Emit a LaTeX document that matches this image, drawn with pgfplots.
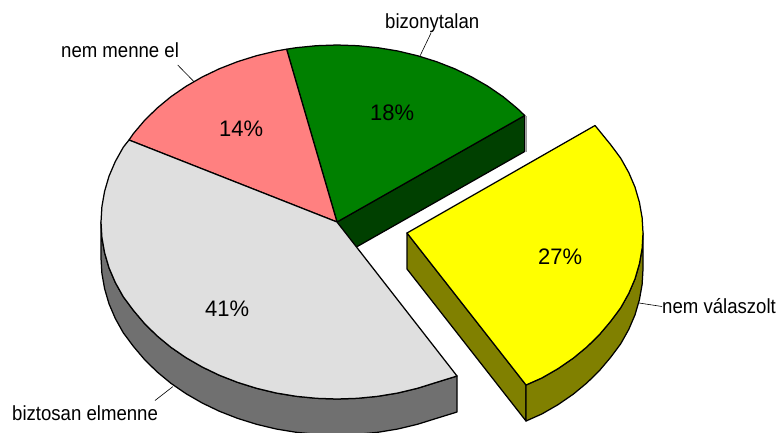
\documentclass[border=0pt]{standalone}
\usepackage{pgfplots}
\pgfplotsset{compat=1.18}
\usepackage{fontspec}
\setmainfont{Liberation Sans}
\definecolor{cgreen}{HTML}{008000}
\definecolor{cdgreen}{HTML}{004000}
\definecolor{cpink}{HTML}{FF8080}
\definecolor{cgray}{HTML}{DFDFDF}
\definecolor{cdgray}{HTML}{707070}
\definecolor{cyel}{HTML}{FFFF00}
\definecolor{colive}{HTML}{808000}
\newcommand{\lab}[1]{{\fontsize{20.5}{21}\selectfont\scalebox{0.91}[1]{#1}}}
\newcommand{\pct}[1]{{\fontsize{22.5}{23}\selectfont\scalebox{0.98}[1]{#1}}}
\begin{document}
\begin{tikzpicture}[x=1bp,y=1bp]
\useasboundingbox (0,0) rectangle (778,432);
\begin{axis}[at={(0,0)},anchor=south west,width=778bp,height=432bp,scale only axis,
  xmin=0,xmax=778,ymin=0,ymax=432,y dir=reverse,axis lines=none,ticks=none,
  every axis plot/.append style={no markers,line join=round,line width=1.25bp,draw=black}]
% green side
\addplot[fill=cdgreen] coordinates {(337,222)(524.7,115.5)(524.7,151.5)(337,258)} --cycle;
\addplot[draw=gray!80,line width=1bp] coordinates {(526,116)(526,152)};
% green top
\addplot[fill=cgreen] coordinates {(337,222)(524.7,115.5)(517,108.2)(503.2,96.8)(488.1,86.4)(471.8,77)(454.5,68.7)(436.3,61.6)(417.4,55.7)(397.8,51)(377.8,47.7)(357.5,45.7)(337,45)(316.5,45.7)(296.2,47.7)(286.6,49.2)} --cycle;
% pink top
\addplot[fill=cpink] coordinates {(337,222)(286.6,49.2)(276.2,51)(256.6,55.7)(237.7,61.6)(219.5,68.7)(202.2,77)(185.9,86.4)(170.8,96.8)(157,108.2)(144.5,120.5)(133.5,133.5)(129,140)} --cycle;
% gray side
\addplot[fill=cdgray] coordinates {(101,222)(101.9,237.4)(104.6,252.7)(109,267.8)(115.3,282.5)(123.3,296.8)(133.5,310.5)(144.5,323.5)(157,335.8)(170.8,347.2)(185.9,357.6)(202.2,367)(219.5,375.3)(237.7,382.4)(256.6,388.3)(276.2,393)(296.2,396.3)(316.5,398.3)(337,399)(357.5,398.3)(377.8,396.3)(397.8,393)(417.4,388.3)(436.3,382.4)(457,376)
(457,412)(436.3,418.4)(417.4,424.3)(397.8,429)(377.8,432.3)(357.5,434.3)(337,435)(316.5,434.3)(296.2,432.3)(276.2,429)(256.6,424.3)(237.7,418.4)(219.5,411.3)(202.2,403)(185.9,393.6)(170.8,383.2)(157,371.8)(144.5,359.5)(133.5,346.5)(123.3,332.8)(115.3,318.5)(109,303.8)(104.6,288.7)(101.9,273.4)(101,258)} --cycle;
% gray top
\addplot[fill=cgray] coordinates {(337,222)(129,140)(123.3,147.2)(115.3,161.5)(109,176.2)(104.6,191.3)(101.9,206.6)(101,222)(101.9,237.4)(104.6,252.7)(109,267.8)(115.3,282.5)(123.3,296.8)(133.5,310.5)(144.5,323.5)(157,335.8)(170.8,347.2)(185.9,357.6)(202.2,367)(219.5,375.3)(237.7,382.4)(256.6,388.3)(276.2,393)(296.2,396.3)(316.5,398.3)(337,399)(357.5,398.3)(377.8,396.3)(397.8,393)(417.4,388.3)(436.3,382.4)(457,376)} --cycle;
% yellow sides
\addplot[fill=colive] coordinates {(407,233)(407,269)(526,421)(526,385)} --cycle;
\addplot[fill=colive] coordinates {(643,233)(642.1,248.4)(639.4,263.7)(635,278.8)(628.7,293.5)(620.7,307.8)(610.5,321.5)(599.5,334.5)(587,346.8)(573.2,358.2)(558.1,368.6)(541.8,378)(526,385)
(526,421)(541.8,414)(558.1,404.6)(573.2,394.2)(587,382.8)(599.5,370.5)(610.5,357.5)(620.7,343.8)(628.7,329.5)(635,314.8)(639.4,299.7)(642.1,284.4)(643,269)} --cycle;
% yellow top
\addplot[fill=cyel] coordinates {(407,233)(595,125.5)(599.5,131)(610.5,144.5)(620.7,158.2)(628.7,172.5)(635,187.2)(639.4,202.3)(642.1,217.6)(643,233)(642.1,248.4)(639.4,263.7)(635,278.8)(628.7,293.5)(620.7,307.8)(610.5,321.5)(599.5,334.5)(587,346.8)(573.2,358.2)(558.1,368.6)(541.8,378)(526,385)} --cycle;
% leader lines
\addplot[line width=0.6bp] coordinates {(155,400.5)(173,386.5)};
\addplot[line width=0.6bp] coordinates {(639,303)(662,306.5)};
\addplot[line width=0.6bp] coordinates {(177.7,65)(194,81.7)};
\addplot[line width=0.6bp] coordinates {(431,33)(420,56)};
% labels
\node[anchor=base west,inner sep=0pt] at (axis cs:12,420) {\lab{biztosan elmenne}};
\node[anchor=base west,inner sep=0pt] at (axis cs:662,313) {\lab{nem válaszolt}};
\node[anchor=base west,inner sep=0pt] at (axis cs:61,58) {\lab{nem menne el}};
\node[anchor=base west,inner sep=0pt] at (axis cs:385,29) {\lab{bizonytalan}};
\node[anchor=base west,inner sep=0pt] at (axis cs:205,316) {\pct{41\%}};
\node[anchor=base west,inner sep=0pt] at (axis cs:538,264) {\pct{27\%}};
\node[anchor=base west,inner sep=0pt] at (axis cs:219,136) {\pct{14\%}};
\node[anchor=base west,inner sep=0pt] at (axis cs:370,120) {\pct{18\%}};
\end{axis}
\end{tikzpicture}
\end{document}
